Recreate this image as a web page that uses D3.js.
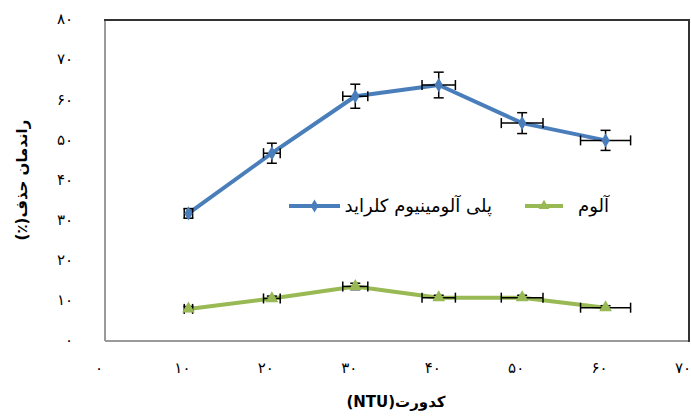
<!DOCTYPE html>
<html>
<head>
<meta charset="utf-8">
<script src="https://cdn.jsdelivr.net/npm/d3@7/dist/d3.min.js"></script>
<style>
  body { margin: 0; background: #fff; }
  text { font-family: "DejaVu Sans", sans-serif; }
  .tick-label { font-size: 15px; fill: #000; }
  .axis-title { font-size: 15px; font-weight: bold; fill: #000; }
  .legend-text { font-size: 18px; fill: #000; }
</style>
</head>
<body>
<div id="chart"></div>
<script>
// dati
const turbidity = [10, 20, 30, 40, 50, 60];
const pacValues = [31.8, 46.8, 61, 63.8, 54.3, 50];
const pacErrY   = [1.2, 2.5, 3, 3.2, 2.6, 2.5];
const pacErrX   = [0.5, 1, 1.5, 2, 2.5, 3];
const alumValues = [8, 10.6, 13.6, 10.8, 10.8, 8.3];
const alumErrY   = [0.6, 0.6, 0.8, 0.6, 0.6, 0.5];
const alumErrX   = [0.5, 1, 1.5, 2, 2.5, 3];
const xTicks = [0, 10, 20, 30, 40, 50, 60, 70];
const yTicks = [0, 10, 20, 30, 40, 50, 60, 70, 80];
const seriesNames = ['پلی آلومینیوم کلراید', 'آلوم'];

const W = 691, H = 416;
const plot = { left: 105, right: 689, top: 20, bottom: 341 };

// cifre persiane
const fa = n => String(n).replace(/\d/g, d => '۰۱۲۳۴۵۶۷۸۹'[d]);

const svg = d3.select('#chart').append('svg')
  .attr('width', W).attr('height', H);

const x = d3.scaleLinear().domain([0, 70]).range([plot.left, plot.right]);
const y = d3.scaleLinear().domain([0, 80]).range([plot.bottom, plot.top]);

// cornice (effetto 3D: sopra/destra scuri, sinistra/sotto grigi)
svg.append('line').attr('x1', plot.left).attr('x2', plot.left)
  .attr('y1', plot.top).attr('y2', plot.bottom)
  .attr('stroke', '#9a9a9a').attr('stroke-width', 2);
svg.append('line').attr('x1', plot.left).attr('x2', plot.right)
  .attr('y1', plot.bottom).attr('y2', plot.bottom)
  .attr('stroke', '#9a9a9a').attr('stroke-width', 2);
svg.append('line').attr('x1', plot.left - 1).attr('x2', plot.right + 1)
  .attr('y1', plot.top).attr('y2', plot.top)
  .attr('stroke', '#333').attr('stroke-width', 2);
svg.append('line').attr('x1', plot.right).attr('x2', plot.right)
  .attr('y1', plot.top).attr('y2', plot.bottom + 1)
  .attr('stroke', '#333').attr('stroke-width', 2);

// etichette assi
svg.selectAll('.ytick').data(yTicks).enter().append('text')
  .attr('class', 'tick-label')
  .attr('x', 73).attr('y', d => y(d) - 1).attr('dy', '0.35em')
  .attr('text-anchor', 'end')
  .text(d => fa(d));

svg.selectAll('.xtick').data(xTicks).enter().append('text')
  .attr('class', 'tick-label')
  .attr('x', d => x(d) - 6).attr('y', 368).attr('dy', '0.35em')
  .attr('text-anchor', 'middle')
  .text(d => fa(d));

svg.append('text').attr('class', 'axis-title')
  .attr('direction', 'rtl')
  .attr('x', 396).attr('y', 407)
  .attr('text-anchor', 'middle')
  .text('کدورت(NTU)');

svg.append('text').attr('class', 'axis-title')
  .attr('direction', 'rtl')
  .attr('transform', 'translate(27,180) rotate(-90)')
  .attr('text-anchor', 'middle')
  .text('راندمان حذف(٪)');

function drawSeries(vals, errX, errY, color, marker) {
  const pts = turbidity.map((t, i) => ({ t, v: vals[i], ex: errX[i], ey: errY[i] }));

  svg.append('path')
    .datum(pts)
    .attr('fill', 'none')
    .attr('stroke', color)
    .attr('stroke-width', 4)
    .attr('stroke-linejoin', 'round')
    .attr('d', d3.line().x(d => x(d.t)).y(d => y(d.v)));

  const cap = 5;
  const eb = svg.append('g').attr('stroke', '#000').attr('stroke-width', 1.5);
  pts.forEach(d => {
    const cx = x(d.t), cy = y(d.v);
    const x0 = x(d.t - d.ex), x1 = x(d.t + d.ex);
    const y0 = y(d.v - d.ey), y1 = y(d.v + d.ey);
    eb.append('line').attr('x1', x0).attr('x2', x1).attr('y1', cy).attr('y2', cy);
    eb.append('line').attr('x1', x0).attr('x2', x0).attr('y1', cy - cap).attr('y2', cy + cap);
    eb.append('line').attr('x1', x1).attr('x2', x1).attr('y1', cy - cap).attr('y2', cy + cap);
    eb.append('line').attr('x1', cx).attr('x2', cx).attr('y1', y0).attr('y2', y1);
    eb.append('line').attr('x1', cx - cap).attr('x2', cx + cap).attr('y1', y0).attr('y2', y0);
    eb.append('line').attr('x1', cx - cap).attr('x2', cx + cap).attr('y1', y1).attr('y2', y1);
  });

  svg.selectAll(null).data(pts).enter().append('path')
    .attr('transform', d => `translate(${x(d.t)},${y(d.v)})`)
    .attr('d', d3.symbol().type(marker).size(marker === d3.symbolDiamond ? 60 : 70))
    .attr('fill', color);
}

drawSeries(pacValues, pacErrX, pacErrY, '#4a7ebb', d3.symbolDiamond);
drawSeries(alumValues, alumErrX, alumErrY, '#98b954', d3.symbolTriangle);

// legenda
const legend = [
  { name: seriesNames[0], color: '#4a7ebb', marker: d3.symbolDiamond, x0: 289, x1: 340, tx: 492 },
  { name: seriesNames[1], color: '#98b954', marker: d3.symbolTriangle, x0: 525, x1: 563, tx: 609 }
];
const lg = svg.append('g');
legend.forEach(l => {
  const ly = 206;
  lg.append('line').attr('x1', l.x0).attr('x2', l.x1).attr('y1', ly).attr('y2', ly)
    .attr('stroke', l.color).attr('stroke-width', 4);
  lg.append('path')
    .attr('transform', `translate(${(l.x0 + l.x1) / 2},${ly})`)
    .attr('d', d3.symbol().type(l.marker).size(50))
    .attr('fill', l.color);
  lg.append('text').attr('class', 'legend-text')
    .attr('direction', 'rtl')
    .attr('x', l.tx).attr('y', ly).attr('dy', '0.35em')
    .attr('text-anchor', 'start')
    .text(l.name);
});
</script>
</body>
</html>
